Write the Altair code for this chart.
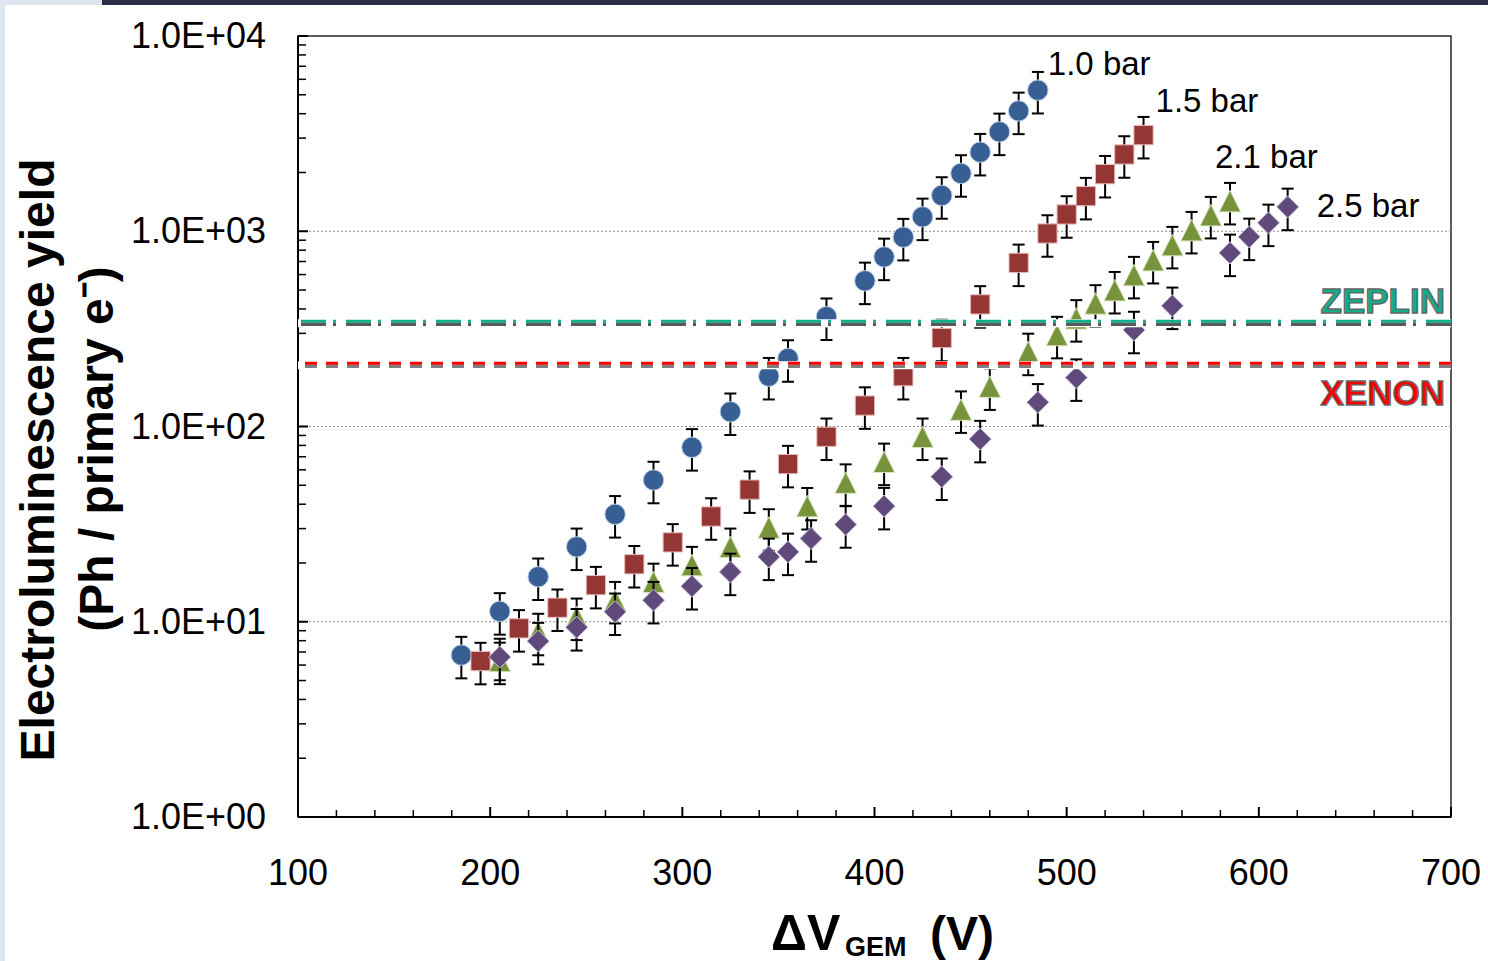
import altair as alt
import pandas as pd

# ---------------- data ----------------
# 1.0 bar (blue circles)
V_10 = [185, 205, 225, 245, 265, 285, 305, 325, 345, 355, 375, 395, 405, 415, 425,
        435, 445, 455, 465, 475, 485]
Y_10 = [6.75, 11.3, 17.0, 24.2, 35.5, 53.2, 78.2, 119, 181, 223, 365, 557, 739, 933,
        1185, 1525, 1977, 2541, 3229, 4135, 5278]
# 1.5 bar (red squares)
V_15 = [195, 215, 235, 255, 275, 295, 315, 335, 355, 375, 395, 415, 435, 455, 475,
        490, 500, 510, 520, 530, 540]
Y_15 = [6.29, 9.25, 11.8, 15.4, 19.7, 25.5, 34.6, 47.5, 64.2, 88.6, 128, 181, 284,
        422, 689, 974, 1219, 1513, 1960, 2473, 3105]
# 2.1 bar (green triangles)
V_21 = [205, 225, 245, 265, 285, 305, 325, 345, 365, 385, 405, 425, 445, 460, 480,
        495, 505, 515, 525, 535, 545, 555, 565, 575, 585]
Y_21 = [6.3, 8.86, 10.6, 12.9, 16.0, 19.5, 24.2, 30.4, 39.1, 51.6, 65.9, 88.6, 122,
        160, 241, 294, 358, 427, 499, 596, 711, 849, 1013, 1209, 1426]
# 2.5 bar (purple diamonds)
V_25 = [205, 225, 245, 265, 285, 305, 325, 345, 355, 367, 385, 405, 435, 455, 485,
        505, 535, 555, 585, 595, 605, 615]
Y_25 = [6.60, 7.96, 9.37, 11.25, 12.9, 15.2, 18.0, 21.5, 22.8, 26.7, 31.5, 39.1, 55.3,
        86.2, 133, 178, 312, 415, 775, 936, 1104, 1333]

REL_ERR = 0.24            # relative uncertainty of every point
ZEPLIN_LEVEL = 346
XENON_LEVEL = 211

X_MAJOR = [100, 200, 300, 400, 500, 600, 700]
X_LABELS = ["100", "200", "300", "400", "500", "600", "700"]
X_MINOR = [v for v in range(120, 700, 20) if v % 100 != 0]
Y_MAJOR = [1, 10, 100, 1000, 10000]
Y_LABELS = ["1.0E+00", "1.0E+01", "1.0E+02", "1.0E+03", "1.0E+04"]
Y_MINOR = [k * 10 ** d for d in range(4) for k in range(2, 10)]
Y_GRID = [10, 100, 1000]

# ---------------- layout / style ----------------
W, H = 1153, 781
FONT = "Liberation Sans"
x_scale = alt.Scale(domain=[100, 700], nice=False, zero=False)
y_scale = alt.Scale(type="log", domain=[1, 10000], nice=False)

one = pd.DataFrame({"a": [0]})
layers = []

# slide artefacts (frame strips)
layers.append(alt.Chart(one).mark_rect(color="#dde6ee").encode(
    x=alt.value(-298), x2=alt.value(-293), y=alt.value(-36), y2=alt.value(925)))
layers.append(alt.Chart(one).mark_rect(color="#dde6ee").encode(
    x=alt.value(-298), x2=alt.value(-196), y=alt.value(-36), y2=alt.value(-31)))
layers.append(alt.Chart(one).mark_rect(color="#2e2d48").encode(
    x=alt.value(-196), x2=alt.value(1190), y=alt.value(-36), y2=alt.value(-31)))

# grid lines
layers.append(alt.Chart(pd.DataFrame({"g": Y_GRID})).mark_rule(
    color="#8c8c8c", strokeWidth=1, strokeDash=[2, 2]).encode(
    y=alt.Y("g:Q", scale=y_scale, axis=None)))

# axis lines
layers.append(alt.Chart(one).mark_rule(color="black", strokeWidth=2).encode(
    x=alt.value(0), y=alt.value(0), y2=alt.value(H)))
layers.append(alt.Chart(one).mark_rule(color="black", strokeWidth=2).encode(
    y=alt.value(H), x=alt.value(0), x2=alt.value(W)))

# inward ticks
layers.append(alt.Chart(pd.DataFrame({"t": Y_MINOR})).mark_rule(
    color="black", strokeWidth=1.5).encode(
    y=alt.Y("t:Q", scale=y_scale, axis=None), x=alt.value(0), x2=alt.value(8)))
layers.append(alt.Chart(pd.DataFrame({"t": Y_MAJOR})).mark_rule(
    color="black", strokeWidth=2).encode(
    y=alt.Y("t:Q", scale=y_scale, axis=None), x=alt.value(0), x2=alt.value(10)))
layers.append(alt.Chart(pd.DataFrame({"t": X_MINOR})).mark_rule(
    color="black", strokeWidth=1.5).encode(
    x=alt.X("t:Q", scale=x_scale, axis=None), y=alt.value(H), y2=alt.value(H - 7)))
layers.append(alt.Chart(pd.DataFrame({"t": X_MAJOR})).mark_rule(
    color="black", strokeWidth=2).encode(
    x=alt.X("t:Q", scale=x_scale, axis=None), y=alt.value(H), y2=alt.value(H - 10)))

# tick labels
layers.append(alt.Chart(pd.DataFrame({"t": Y_MAJOR, "lab": Y_LABELS})).mark_text(
    font=FONT, fontSize=36, color="black", align="right", baseline="middle",
    dy=1).encode(
    y=alt.Y("t:Q", scale=y_scale, axis=None), x=alt.value(-32), text="lab:N"))
layers.append(alt.Chart(pd.DataFrame({"t": X_MAJOR, "lab": X_LABELS})).mark_text(
    font=FONT, fontSize=36, color="black", align="center", baseline="top").encode(
    x=alt.X("t:Q", scale=x_scale, axis=None), y=alt.value(H + 40), text="lab:N"))

TRI = "M0,-1L1,1L-1,1Z"
series = [
    ("1.0 bar", V_10, Y_10, "circle", 420, "#385f94", "#b9cde5", 10, -15),
    ("1.5 bar", V_15, Y_15, "square", 370, "#943634", "#e6b9b8", 12, -23),
    ("2.1 bar", V_21, Y_21, TRI, 460, "#77933c", "#d7e4bd", -15, -33),
    ("2.5 bar", V_25, Y_25, "diamond", 490, "#604a7b", "#ccc1da", 29, 10),
]

label_layers = []
for name, xs, ys, shape, size, fill, edge, ldx, ldy in series:
    df = pd.DataFrame({"v": xs, "y": ys})
    df["lo"] = df["y"] * (1 - REL_ERR)
    df["hi"] = df["y"] * (1 + REL_ERR)
    base = alt.Chart(df)
    layers.append(base.mark_rule(color="black", strokeWidth=2).encode(
        x=alt.X("v:Q", scale=x_scale, axis=None),
        y=alt.Y("lo:Q", scale=y_scale, axis=None), y2="hi:Q"))
    for col in ("lo", "hi"):
        layers.append(base.mark_tick(color="black", thickness=2, size=12,
                                     orient="horizontal", opacity=1).encode(
            x=alt.X("v:Q", scale=x_scale, axis=None),
            y=alt.Y(f"{col}:Q", scale=y_scale, axis=None)))
    layers.append(base.mark_point(shape=shape, filled=True, size=size, fill=fill,
                                  stroke=edge, strokeWidth=1, opacity=1).encode(
        x=alt.X("v:Q", scale=x_scale, axis=None),
        y=alt.Y("y:Q", scale=y_scale, axis=None)))
    last = pd.DataFrame({"v": [xs[-1]], "y": [ys[-1]], "name": [name]})
    label_layers.append(alt.Chart(last).mark_text(
        font=FONT, fontSize=33, color="black", align="left", baseline="alphabetic",
        dx=ldx, dy=ldy).encode(
        x=alt.X("v:Q", scale=x_scale, axis=None),
        y=alt.Y("y:Q", scale=y_scale, axis=None), text="name:N"))

# reference levels (ZEPLIN / XENON) with white backing and grey shadow
for level, color, shadow, dash in [
        (ZEPLIN_LEVEL, "#12ad89", "#5a5a5a", [25, 10, 3, 7]),
        (XENON_LEVEL, "#ff0000", "#7f7f7f", [12, 9])]:
    lv = alt.Chart(pd.DataFrame({"lv": [level]}))
    yenc = alt.Y("lv:Q", scale=y_scale, axis=None)
    layers.append(lv.mark_rule(color="white", strokeWidth=8, yOffset=2).encode(y=yenc))
    layers.append(lv.mark_rule(color=shadow, strokeWidth=3.5, yOffset=3,
                               strokeDash=dash, strokeCap="butt").encode(y=yenc))
    layers.append(lv.mark_rule(color=color, strokeWidth=3, strokeDash=dash,
                               strokeCap="butt").encode(y=yenc))

for level, name, fill, ddy in [(ZEPLIN_LEVEL, "ZEPLIN", "#12ad89", -8),
                               (XENON_LEVEL, "XENON", "#ff0000", 42)]:
    layers.append(alt.Chart(pd.DataFrame({"lv": [level], "name": [name]})).mark_text(
        font=FONT, fontSize=35, fontWeight="bold", fill=fill,
        stroke="#666666", strokeWidth=1.3, align="right", baseline="alphabetic",
        dy=ddy).encode(x=alt.value(1147),
                       y=alt.Y("lv:Q", scale=y_scale, axis=None), text="name:N"))

layers.extend(label_layers)

# axis titles
layers.append(alt.Chart(one).mark_text(
    text="Electroluminescence  yield", font=FONT, fontSize=48, fontWeight="bold",
    angle=270, align="center", baseline="alphabetic", color="black").encode(
    x=alt.value(-244), y=alt.value(424)))
layers.append(alt.Chart(one).mark_text(
    text="(Ph / primary e\u207b)", font=FONT, fontSize=48, fontWeight="bold",
    angle=270, align="center", baseline="alphabetic", color="black").encode(
    x=alt.value(-185), y=alt.value(413)))
layers.append(alt.Chart(one).mark_text(
    text="\u0394V", font=FONT, fontSize=50, fontWeight="bold", align="left",
    baseline="alphabetic", color="black").encode(x=alt.value(473), y=alt.value(914)))
layers.append(alt.Chart(one).mark_text(
    text="GEM", font=FONT, fontSize=27, fontWeight="bold", align="left",
    baseline="alphabetic", color="black").encode(x=alt.value(547), y=alt.value(920)))
layers.append(alt.Chart(one).mark_text(
    text="(V)", font=FONT, fontSize=48, fontWeight="bold", align="left",
    baseline="alphabetic", color="black").encode(x=alt.value(632), y=alt.value(914)))

chart = alt.layer(*layers).properties(
    width=W, height=H,
    padding={"left": 298, "top": 36, "right": 37, "bottom": 144},
    autosize=alt.AutoSizeParams(type="none"),
    background="white",
).configure_view(stroke="#262626", strokeWidth=1.5)

chart.save("out.html", embed_options={"renderer": "svg", "actions": False})
